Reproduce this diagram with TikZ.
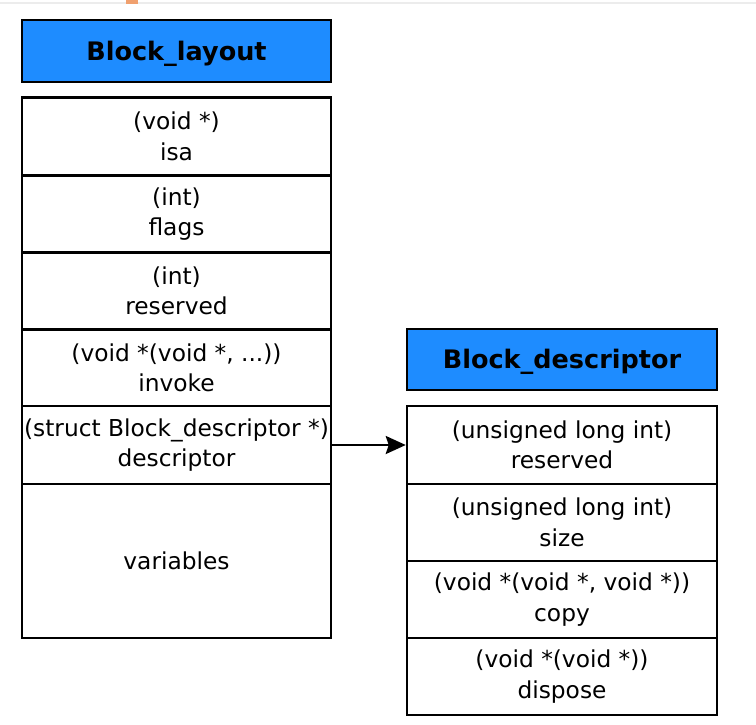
\documentclass[tikz,border=0pt]{standalone}
\usepackage{fontspec}
\setmainfont{DejaVu Sans}
\usetikzlibrary{arrows.meta}
\definecolor{hdrblue}{RGB}{30,140,255}
\definecolor{tabline}{RGB}{236,236,236}
\definecolor{tabmark}{RGB}{240,160,110}
\begin{document}
\begin{tikzpicture}[x=1pt,y=-1pt,
  header/.style={draw=black, line width=2.5pt, fill=hdrblue, inner sep=0pt,
    text height=18.6pt, text depth=0pt,
    font=\fontsize{25.5}{30}\selectfont\bfseries},
  field/.style={draw=black, line width=2.5pt, fill=white, inner sep=0pt,
    align=center, font=\fontsize{23.3}{30.5}\selectfont},
  link/.style={line width=2.5pt, -{Stealth[length=20pt,width=18pt,inset=3pt]}}]
  \useasboundingbox (0,0) rectangle (756,724);
  \fill[white] (0,0) rectangle (756,724);
  % window strip along the top edge
  \fill[tabline] (0,1.5) rectangle (756,3.5);
  \fill[tabmark] (126,0) rectangle (138,3.5);

  % Block_layout
  \node[header, minimum width=309pt, minimum height=62pt] (layout) at (176.5,51) {Block\_layout};
  \node[field, minimum width=309pt, minimum height=78pt] (isa) at (176.5,136.5) {(void *)\\isa};
  \node[field, minimum width=309pt, minimum height=77pt] (flags) at (176.5,214) {(int)\\flags};
  \node[field, minimum width=309pt, minimum height=77pt] (lreserved) at (176.5,291) {(int)\\reserved};
  \node[field, minimum width=309pt, minimum height=77pt] (invoke) at (176.5,368) {(void *(void *, ...))\\invoke};
  \node[field, minimum width=309pt, minimum height=78pt] (desc) at (176.5,445) {(struct Block\_descriptor *)\\descriptor};
  \node[field, minimum width=309pt, minimum height=154pt] (vars) at (176.5,561) {variables};

  % Block_descriptor
  \node[header, minimum width=310pt, minimum height=61pt] (descriptor) at (562,359.5) {Block\_descriptor};
  \node[field, minimum width=310pt, minimum height=78pt] (rreserved) at (562,445) {(unsigned long int)\\reserved};
  \node[field, minimum width=310pt, minimum height=77pt] (size) at (562,522.5) {(unsigned long int)\\size};
  \node[field, minimum width=310pt, minimum height=77pt] (copy) at (562,599.5) {(void *(void *, void *))\\copy};
  \node[field, minimum width=310pt, minimum height=77pt] (dispose) at (562,676.5) {(void *(void *))\\dispose};

  \draw[link] (desc.east) -- (rreserved.west);
\end{tikzpicture}
\end{document}
